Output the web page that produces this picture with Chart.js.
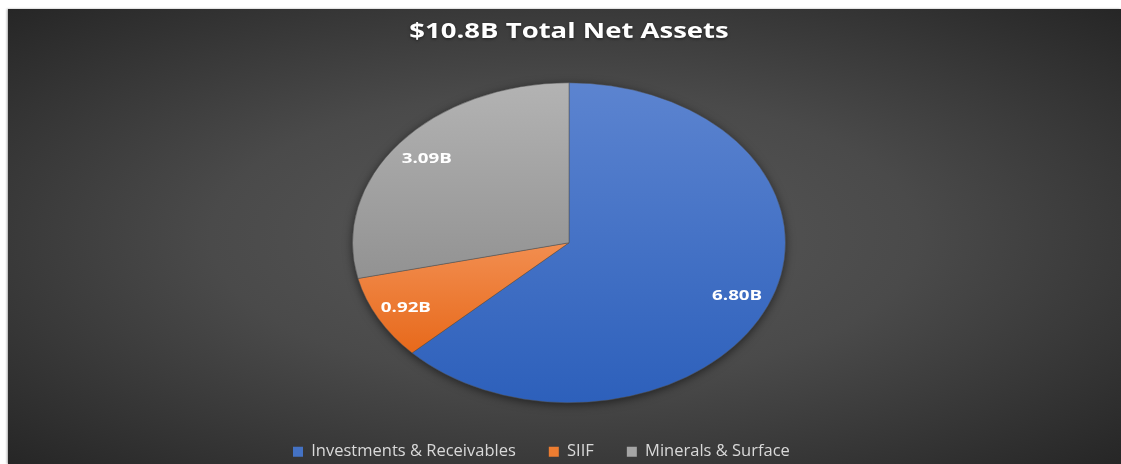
<!DOCTYPE html>
<html>
<head>
<meta charset="utf-8">
<script src="https://cdn.jsdelivr.net/npm/chart.js@4.4.1/dist/chart.umd.min.js"></script>
<style>
  html, body { margin: 0; padding: 0; background: #fff; }
  #wrap {
    position: absolute; left: 8px; top: 9px; width: 1113px; height: 455px;
    background: radial-gradient(ellipse farthest-corner at 50% 50%, #595959 0%, #4a4a4a 45%, #262626 100%);
    box-shadow: -1px 0 2px rgba(0,0,0,0.35);
  }
</style>
</head>
<body>
<div id="wrap"><canvas id="pie" width="1113" height="455"></canvas></div>
<script>
var chartTitle = '$10.8B Total Net Assets';
var labels = ['Investments & Receivables', 'SIIF', 'Minerals & Surface'];
var values = [6.80, 0.92, 3.09];
var valueText = ['6.80B', '0.92B', '3.09B'];

var legendColors = ['#4472c4', '#ed7d31', '#a5a5a5'];
var topColors = ['#5c84d0', '#f28e50', '#b3b3b3'];
var bottomColors = ['#2d60bb', '#e7691b', '#929292'];

var R = 160;            // vertical radius
var SX = 216.5 / 160;   // the pie is stretched sideways
var labelPos = [0.845, 0.855, 0.84];

// vertical gradient over each slice's own height
function sliceGradient(chart, i) {
  var a = chart.chartArea;
  var cy = (a.top + a.bottom) / 2;
  var total = values.reduce(function (s, v) { return s + v }, 0);
  var before = 0;
  for (var k = 0; k < i; k++) before += values[k];
  var a0 = -Math.PI / 2 + before / total * Math.PI * 2;
  var a1 = a0 + values[i] / total * Math.PI * 2;
  var ymin = cy, ymax = cy;
  for (var s = 0; s <= 40; s++) {
    var y = cy + Math.sin(a0 + (a1 - a0) * s / 40) * R;
    if (y < ymin) ymin = y;
    if (y > ymax) ymax = y;
  }
  var g = chart.ctx.createLinearGradient(0, ymin, 0, ymax);
  g.addColorStop(0, topColors[i]);
  g.addColorStop(1, bottomColors[i]);
  return g;
}

// text drawn a bit wider than the font, like the reference
function wideText(ctx, txt, x, y, sx) {
  ctx.save();
  ctx.translate(x, y);
  ctx.scale(sx, 1);
  ctx.fillText(txt, 0, 0);
  ctx.restore();
}

var stretchPie = {
  id: 'stretchPie',
  beforeDatasetsDraw: function (chart) {
    var ctx = chart.ctx, a = chart.chartArea;
    var cx = (a.left + a.right) / 2, cy = (a.top + a.bottom) / 2;
    ctx.save();
    // soft shadow round the pie
    ctx.save();
    ctx.shadowColor = 'rgba(0,0,0,0.55)';
    ctx.shadowBlur = 10;
    ctx.shadowOffsetY = 2;
    ctx.fillStyle = '#3a3a3a';
    ctx.beginPath();
    ctx.ellipse(cx, cy, R * SX, R, 0, 0, Math.PI * 2);
    ctx.fill();
    ctx.restore();
    ctx.translate(cx, 0);
    ctx.scale(SX, 1);
    ctx.translate(-cx, 0);
  },
  afterDatasetsDraw: function (chart) {
    var ctx = chart.ctx;
    ctx.restore();
    var arcs = chart.getDatasetMeta(0).data;
    ctx.save();
    ctx.font = 'bold 15px "Open Sans"';
    ctx.fillStyle = '#ffffff';
    ctx.textAlign = 'center';
    ctx.textBaseline = 'middle';
    arcs.forEach(function (arc, i) {
      var mid = (arc.startAngle + arc.endAngle) / 2;
      var r = arc.outerRadius * labelPos[i];
      wideText(ctx, valueText[i], arc.x + Math.cos(mid) * r * SX, arc.y + Math.sin(mid) * r, 1.25);
    });
    ctx.restore();
  },
  afterDraw: function (chart) {
    var ctx = chart.ctx;
    ctx.save();
    ctx.font = 'bold 21px "Open Sans"';
    ctx.fillStyle = '#ffffff';
    ctx.textAlign = 'center';
    ctx.textBaseline = 'middle';
    ctx.shadowColor = 'rgba(0,0,0,0.5)';
    ctx.shadowBlur = 3;
    ctx.shadowOffsetY = 1;
    wideText(ctx, chartTitle, 561, 23, 1.31);
    ctx.restore();
  }
};

var chart = new Chart(document.getElementById('pie'), {
  type: 'pie',
  data: {
    labels: labels,
    datasets: [{
      data: values,
      backgroundColor: function (c) {
        if (!c.chart.chartArea) return legendColors[c.dataIndex];
        return sliceGradient(c.chart, c.dataIndex);
      },
      borderColor: 'rgba(80,80,80,0.7)',
      borderWidth: 0.6,
      hoverOffset: 0,
      radius: R
    }]
  },
  options: {
    responsive: false,
    animation: false,
    layout: { padding: { left: 252, right: 243, top: 66, bottom: -6 } },
    plugins: {
      title: { display: false },
      legend: {
        position: 'bottom',
        align: 'start',
        labels: {
          color: '#d9d9d9',
          font: { family: 'Open Sans', size: 16.5 },
          boxWidth: 10,
          boxHeight: 10,
          padding: 33,
          generateLabels: function (chart) {
            var items = Chart.overrides.doughnut.plugins.legend.labels.generateLabels(chart);
            items.forEach(function (it, i) {
              it.fillStyle = legendColors[i];
              it.strokeStyle = legendColors[i];
              it.lineWidth = 0;
            });
            return items;
          }
        }
      },
      tooltip: { enabled: false }
    }
  },
  plugins: [stretchPie]
});
</script>
</body>
</html>
